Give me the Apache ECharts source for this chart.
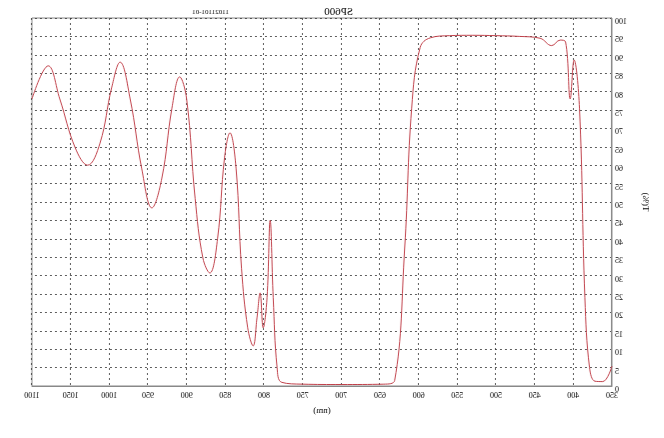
<!DOCTYPE html>
<html><head><meta charset="utf-8">
<script src="https://cdn.jsdelivr.net/npm/echarts@6/dist/echarts.min.js"></script>
<style>html,body{margin:0;background:#fff}#c{width:664px;height:438px;transform:scaleX(-1)}</style>
</head><body><div id="c"></div>
<script>
const wavelengths=[350,362,372,379,385,392,399,404,410,417,428,443,470,500,530,560,585,598,609,618,631,645,700,750,777,783,788,792,796,801,805,809,814,821,829,836,844,851,860,870,879,889,900,909,919,932,945,958,973,986,997,1012,1028,1044,1064,1079,1100];
const transmittance=[5.4,1.2,1.3,5,24,75.5,88.6,78,93.5,94,92.5,94.5,95,95.2,95.3,95.2,94.6,92,75.5,37.5,1.5,0.5,0.4,0.5,1,5,24,45,24,15.8,25.3,18.5,10.9,15.8,32,59,68.8,62,40,30.7,34.8,51,78,84,75.5,56.5,48.4,59,78,88,81,66,60,64.7,78,87,78];
const chart=echarts.init(document.getElementById('c'));
chart.setOption({
 animation:false,
 title:[{text:'SP600',left:306,top:2,textStyle:{fontSize:11,fontWeight:'normal',fontFamily:'Liberation Serif',color:'#000'}},
        {text:'11021101-01',left:430,top:4,textStyle:{fontSize:7,fontWeight:'normal',fontFamily:'Liberation Serif',color:'#000'}}],
 grid:{left:52,right:32,top:18,bottom:52},
 xAxis:{type:'value',min:350,max:1100,interval:50,name:'(nm)',nameLocation:'middle',nameGap:20,
  nameTextStyle:{fontSize:9,fontFamily:'Liberation Serif',color:'#000'},
  axisLine:{lineStyle:{color:'#888'}},axisTick:{show:false},
  axisLabel:{fontSize:8,fontFamily:'Liberation Serif',color:'#000',margin:6,formatter:v=>String(v)},
  splitLine:{lineStyle:{type:[2,3],color:'#333',width:0.8}}},
 yAxis:{type:'value',min:0,max:100,interval:5,name:'T(%)',nameLocation:'middle',nameGap:29,nameRotate:90,
  nameTextStyle:{fontSize:9,fontFamily:'Liberation Serif',color:'#000'},
  axisLine:{show:true,lineStyle:{color:'#888'}},axisTick:{show:false},
  axisLabel:{fontSize:8,fontFamily:'Liberation Serif',color:'#000',margin:3,verticalAlign:'top'},
  splitLine:{lineStyle:{type:[2,3],color:'#333',width:0.8}}},
 graphic:[{type:'rect',shape:{x:52,y:18,width:580,height:368},style:{fill:'none',stroke:'#888',lineWidth:1}}],
 series:[{type:'line',data:wavelengths.map((w,i)=>[w,transmittance[i]]),smooth:0.4,showSymbol:false,
  lineStyle:{color:'#c0404a',width:1}}]
});
</script></body></html>
